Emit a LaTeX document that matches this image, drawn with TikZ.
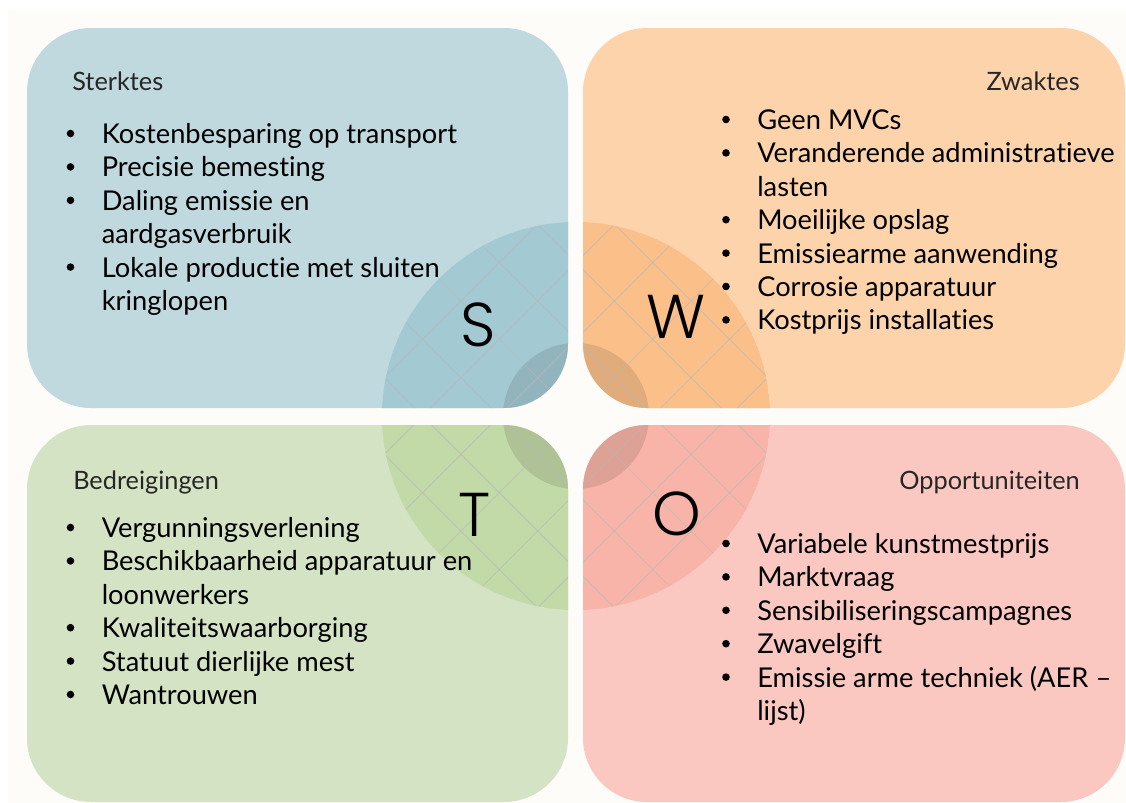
\documentclass[tikz,border=0pt]{standalone}
\usepackage{fontspec}
\setmainfont{Lato}[Ligatures={NoCommon,NoContextual}]
\newfontfamily\letterfont{Poppins Light}

\definecolor{cream}{HTML}{FEFCF8}
\definecolor{sLight}{HTML}{BFD9DF}
\definecolor{sDark}{HTML}{A3C9D3}
\definecolor{wLight}{HTML}{FDD3AC}
\definecolor{wDark}{HTML}{FBC08A}
\definecolor{tLight}{HTML}{D5E3C5}
\definecolor{tDark}{HTML}{C2D9A8}
\definecolor{oLight}{HTML}{FAC8C0}
\definecolor{oDark}{HTML}{F8B4A8}

\tikzset{
  boxshape/.style={rounded corners=1.6cm},
  head/.style={font=\fontsize{18pt}{21pt}\selectfont, text=black!85, inner sep=0pt},
  entry/.style={font=\fontsize{19.4pt}{23.8pt}\selectfont, inner sep=0pt, anchor=base west},
  bullet/.style={circle, fill=black, inner sep=0pt, minimum size=0.19cm},
  letter/.style={font=\letterfont\fontsize{44pt}{48pt}\selectfont, inner sep=0pt},
  gridline/.style={white!72!black, opacity=.6, line width=0.7pt},
}

% #1 name prefix, #2 bullet x, #3 centre y of first row, #4 flag/text list
\newcommand\swotitems[4]{%
  \foreach \bul/\txt [count=\i] in {#4} {
    \node[entry] (#1\i) at ({#2+31},{#3+9.5+33.4*(\i-1)}) {\txt};
    \ifnum\bul=1 \node[bullet] (#1b\i) at ({#2},{#3-0.5+33.4*(\i-1)}) {};\fi
  }}

\begin{document}
\begin{tikzpicture}[x=0.025cm, y=-0.025cm]
  \useasboundingbox (0,0) rectangle (1126,803);
  \fill[white] (0,0) rectangle (1126,803);
  \fill[cream] (8,10) rectangle (1126,803);
  \coordinate (ctr) at (576,416);

  % four quadrants, each with its part of the centre disc
  \foreach \xa/\ya/\xb/\yb/\q in {27/28/568/408/s, 583/28/1125/408/w,
                                  27/425/568/802/t, 583/425/1125/802/o} {
    \fill[boxshape, fill=\q Light] (\xa,\ya) rectangle (\xb,\yb);
    \begin{scope}
      \clip[boxshape] (\xa,\ya) rectangle (\xb,\yb);
      \clip (ctr) circle (194);
      \fill[fill=\q Dark] (ctr) circle (194);
      \fill[black, opacity=.1] (ctr) circle (73);
      \foreach \k in {-6,...,6} {
        \draw[gridline] ({576+38.35*\k-300},{416-38.35*\k-300}) -- ++(600,600);
        \draw[gridline] ({576+38.35*\k-300},{416+38.35*\k+300}) -- ++(600,-600);
      }
    \end{scope}
  }

  % big letters
  \node[letter] (lS) at (478,325) {S};
  \node[letter] (lW) at (676.5,317) {W};
  \node[letter] (lT) at (475,515) {T};
  \node[letter] (lO) at (677,514) {O};

  % headings
  \node[head, anchor=base west] (shead) at (72,90) {Sterktes};
  \node[head, anchor=base east] (whead) at (1080,90) {Zwaktes};
  \node[head, anchor=base west] (thead) at (73,489) {Bedreigingen};
  \node[head, anchor=base east] (ohead) at (1080,489) {Opportuniteiten};

  % lists
  \swotitems{s}{70.5}{134}{1/Kostenbesparing op transport, 1/Precisie bemesting,
    1/Daling emissie en, 0/aardgasverbruik, 1/Lokale productie met sluiten, 0/kringlopen}
  \swotitems{w}{726}{120}{1/Geen MVCs, 1/Veranderende administratieve, 0/lasten,
    1/Moeilijke opslag, 1/Emissiearme aanwending, 1/Corrosie apparatuur, 1/Kostprijs installaties}
  \swotitems{t}{70.5}{528}{1/Vergunningsverlening, 1/Beschikbaarheid apparatuur en,
    0/loonwerkers, 1/Kwaliteitswaarborging, 1/Statuut dierlijke mest, 1/Wantrouwen}
  \swotitems{o}{726}{544}{1/Variabele kunstmestprijs, 1/Marktvraag, 1/Sensibiliseringscampagnes,
    1/Zwavelgift, 1/Emissie arme techniek (AER –, 0/lijst)}
\end{tikzpicture}
\end{document}
